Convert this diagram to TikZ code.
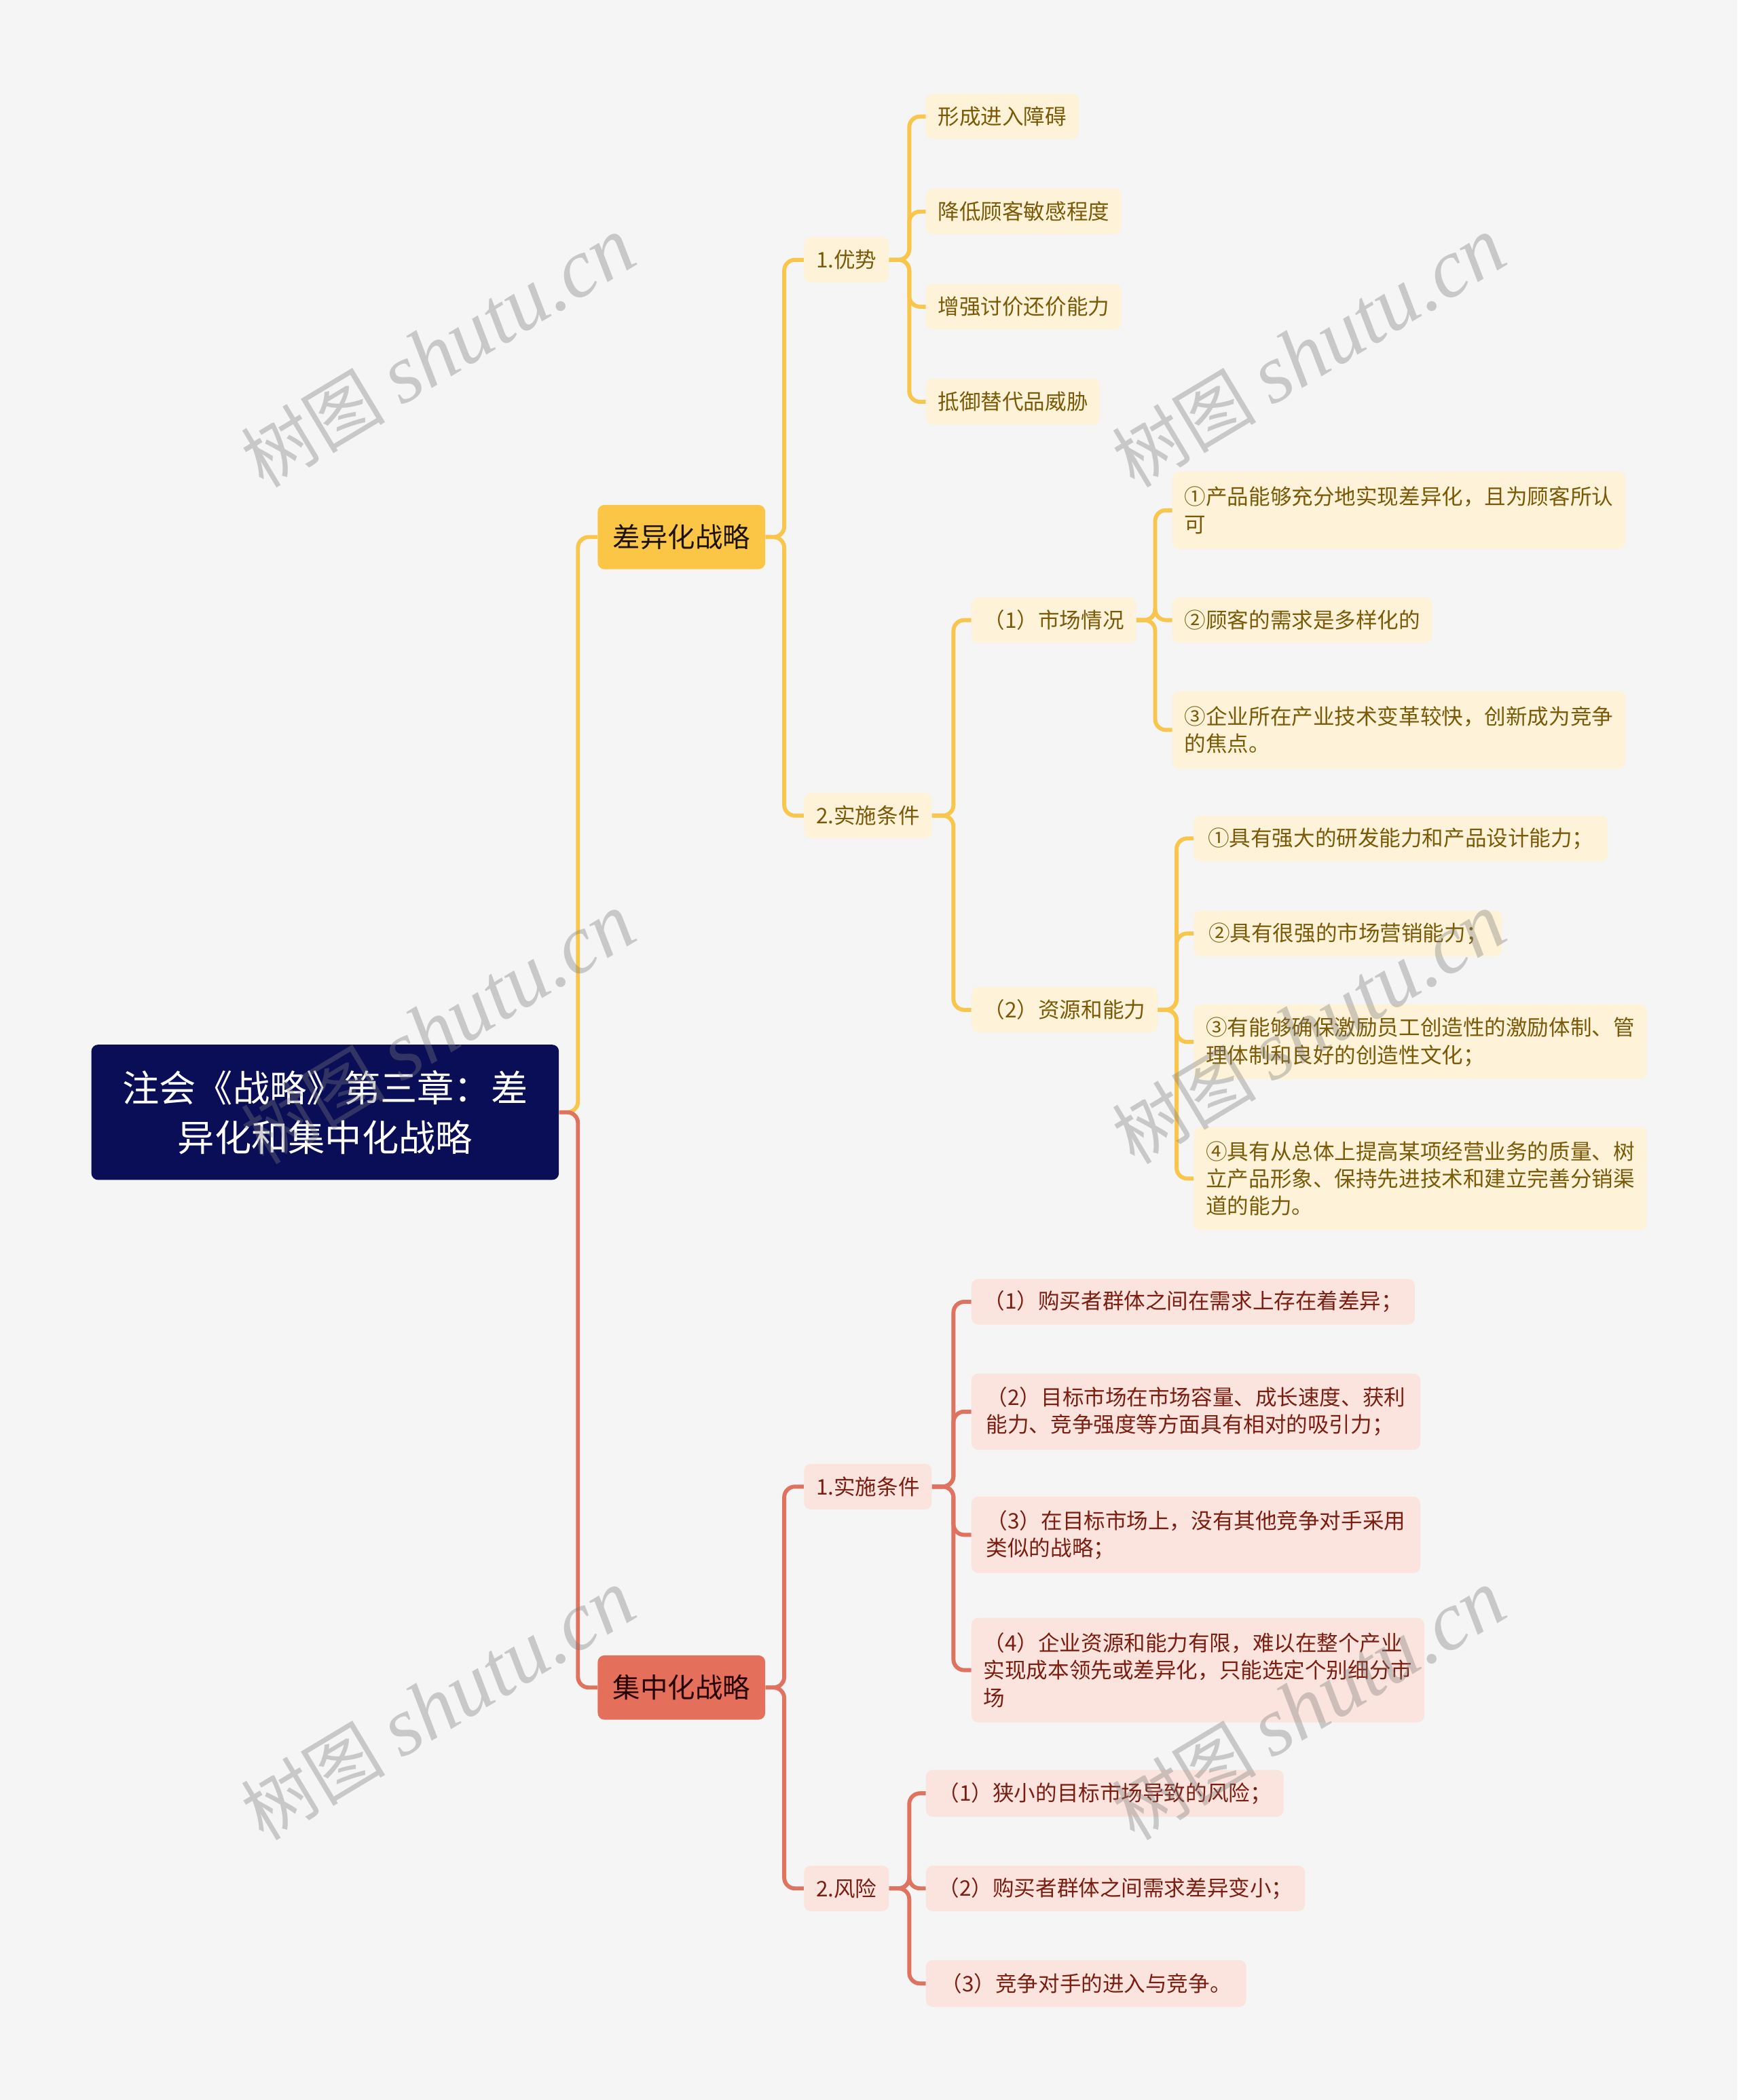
\documentclass[tikz,border=0pt]{standalone}
\usepackage{fontspec}
\setmainfont{Noto Sans CJK SC}
\newfontfamily\wmcjk{Noto Sans CJK SC}
\newfontfamily\wmserif{Liberation Serif}
\definecolor{bgc}{HTML}{F5F5F5}
\definecolor{rootc}{HTML}{0A0E57}
\definecolor{yline}{HTML}{F8C64C}
\definecolor{yfill}{HTML}{FBC646}
\definecolor{ylight}{HTML}{FEF3D9}
\definecolor{ytext}{HTML}{7A5A08}
\definecolor{rline}{HTML}{E07260}
\definecolor{rfill}{HTML}{E4705C}
\definecolor{rlight}{HTML}{FBE4DE}
\definecolor{rtext}{HTML}{7A1E12}
\definecolor{wmc}{HTML}{7A7A7A}
\pgfdeclarelayer{bglayer}
\pgfdeclarelayer{connlayer}
\pgfsetlayers{bglayer,connlayer,main}
\tikzset{
  base/.style={rounded corners=5pt, inner xsep=9pt, inner ysep=3pt, align=left, anchor=west},
  rootbox/.style={base, fill=rootc, text=white, align=center, font=\fontsize{27.5pt}{37pt}\selectfont},
  ymain/.style={base, fill=yfill, text=black!85!brown, font=\fontsize{20.5pt}{24pt}\selectfont, minimum width=125pt, minimum height=48pt, align=center},
  rmain/.style={base, fill=rfill, text=black!85!red, font=\fontsize{20.5pt}{24pt}\selectfont, minimum width=125pt, minimum height=48pt, align=center},
  ysub/.style={base, fill=ylight, text=ytext, font=\fontsize{16pt}{20.5pt}\selectfont, minimum height=34pt},
  rsub/.style={base, fill=rlight, text=rtext, font=\fontsize{16pt}{20.5pt}\selectfont, minimum height=34pt},
  yconn/.style={draw=yline, line width=3pt, rounded corners=8pt},
  rconn/.style={draw=rline, line width=3pt, rounded corners=8pt},
  wm/.style={text=wmc, text opacity=0.36, rotate=31, inner sep=0pt}
}
\begin{document}
\begin{tikzpicture}[x=1pt,y=-1pt]
\begin{pgfonlayer}{bglayer}
\fill[bgc] (0,0) rectangle (1297,1568);
\end{pgfonlayer}
\useasboundingbox (0,0) rectangle (1297,1568);

% root
\node[rootbox, minimum width=349pt, minimum height=101pt] (root) at (68,830.5) {注会《战略》第三章：差\\异化和集中化战略};

% level 1
\node[ymain] (cy) at (446,401) {差异化战略};
\node[rmain] (jz) at (446,1260) {集中化战略};

% level 2
\node[ysub, minimum width=62pt] (ys) at (600,194) {1.优势};
\node[ysub, minimum width=93pt] (ss) at (600,609) {2.实施条件};
\node[rsub, minimum width=93pt] (jc) at (600,1110) {1.实施条件};
\node[rsub, minimum width=62pt] (fx) at (600,1410) {2.风险};

% level 3 yellow
\node[ysub, minimum width=113pt] (a1) at (691,87) {形成进入障碍};
\node[ysub, minimum width=145pt] (a2) at (691,158) {降低顾客敏感程度};
\node[ysub, minimum width=145pt] (a3) at (691,229) {增强讨价还价能力};
\node[ysub, minimum width=129pt] (a4) at (691,300) {抵御替代品威胁};
\node[ysub, minimum width=121pt] (b1) at (725,463) {（1）市场情况};
\node[ysub, minimum width=137pt] (b2) at (725,754) {（2）资源和能力};

% level 4 yellow
\node[ysub, minimum width=337pt, minimum height=58pt] (c1) at (875,381) {①产品能够充分地实现差异化，且为顾客所认\\可};
\node[ysub, minimum width=192pt] (c2) at (875,463) {②顾客的需求是多样化的};
\node[ysub, minimum width=337pt, minimum height=58pt] (c3) at (875,545) {③企业所在产业技术变革较快，创新成为竞争\\的焦点。};
\node[ysub, minimum width=309pt] (d1) at (891,626) {①具有强大的研发能力和产品设计能力；};
\node[ysub, minimum width=230pt] (d2) at (891,697) {②具有很强的市场营销能力；};
\node[ysub, minimum width=337pt, minimum height=56pt] (d3) at (891,778) {③有能够确保激励员工创造性的激励体制、管\\理体制和良好的创造性文化；};
\node[ysub, minimum width=337pt, minimum height=77pt] (d4) at (891,880) {④具有从总体上提高某项经营业务的质量、树\\立产品形象、保持先进技术和建立完善分销渠\\道的能力。};

% level 3 red
\node[rsub, minimum width=329pt] (e1) at (725,972) {（1）购买者群体之间在需求上存在着差异；};
\node[rsub, minimum width=335pt, minimum height=57pt] (e2) at (725,1054) {（2）目标市场在市场容量、成长速度、获利\\能力、竞争强度等方面具有相对的吸引力；};
\node[rsub, minimum width=335pt, minimum height=57pt] (e3) at (725,1146) {（3）在目标市场上，没有其他竞争对手采用\\类似的战略；};
\node[rsub, minimum width=335pt, minimum height=78pt] (e4) at (725,1247) {（4）企业资源和能力有限，难以在整个产业\\实现成本领先或差异化，只能选定个别细分市\\场};
\node[rsub, minimum width=266pt, minimum height=35pt] (f1) at (691,1339) {（1）狭小的目标市场导致的风险；};
\node[rsub, minimum width=282pt] (f2) at (691,1410) {（2）购买者群体之间需求差异变小；};
\node[rsub, minimum width=239pt, minimum height=35pt] (f3) at (691,1481) {（3）竞争对手的进入与竞争。};

% connectors
\begin{pgfonlayer}{connlayer}
\draw[yconn] (root.east) -- ++(14,0) |- (cy.west);
\draw[rconn] (root.east) -- ++(14,0) |- (jz.west);
\foreach \c in {ys,ss} \draw[yconn] (cy.east) -- ++(14,0) |- (\c.west);
\foreach \c in {a1,a2,a3,a4} \draw[yconn] (ys.east) -- ++(15,0) |- (\c.west);
\foreach \c in {b1,b2} \draw[yconn] (ss.east) -- ++(16,0) |- (\c.west);
\foreach \c in {c1,c2,c3} \draw[yconn] (b1.east) -- ++(14,0) |- (\c.west);
\foreach \c in {d1,d2,d3,d4} \draw[yconn] (b2.east) -- ++(14,0) |- (\c.west);
\foreach \c in {jc,fx} \draw[rconn] (jz.east) -- ++(14,0) |- (\c.west);
\foreach \c in {e1,e2,e3,e4} \draw[rconn] (jc.east) -- ++(16,0) |- (\c.west);
\foreach \c in {f1,f2,f3} \draw[rconn] (fx.east) -- ++(15,0) |- (\c.west);
\end{pgfonlayer}

% watermarks
\foreach \wx/\wy [count=\i] in {327/263, 977/263, 327/768, 977/768, 327/1273, 977/1273}
  \node[wm] (wm\i) at (\wx,\wy) {{\wmcjk\fontsize{54pt}{56pt}\selectfont 树图}\hspace{12pt}{\wmserif\itshape\fontsize{62pt}{64pt}\selectfont shutu.cn}};
\end{tikzpicture}
\end{document}
